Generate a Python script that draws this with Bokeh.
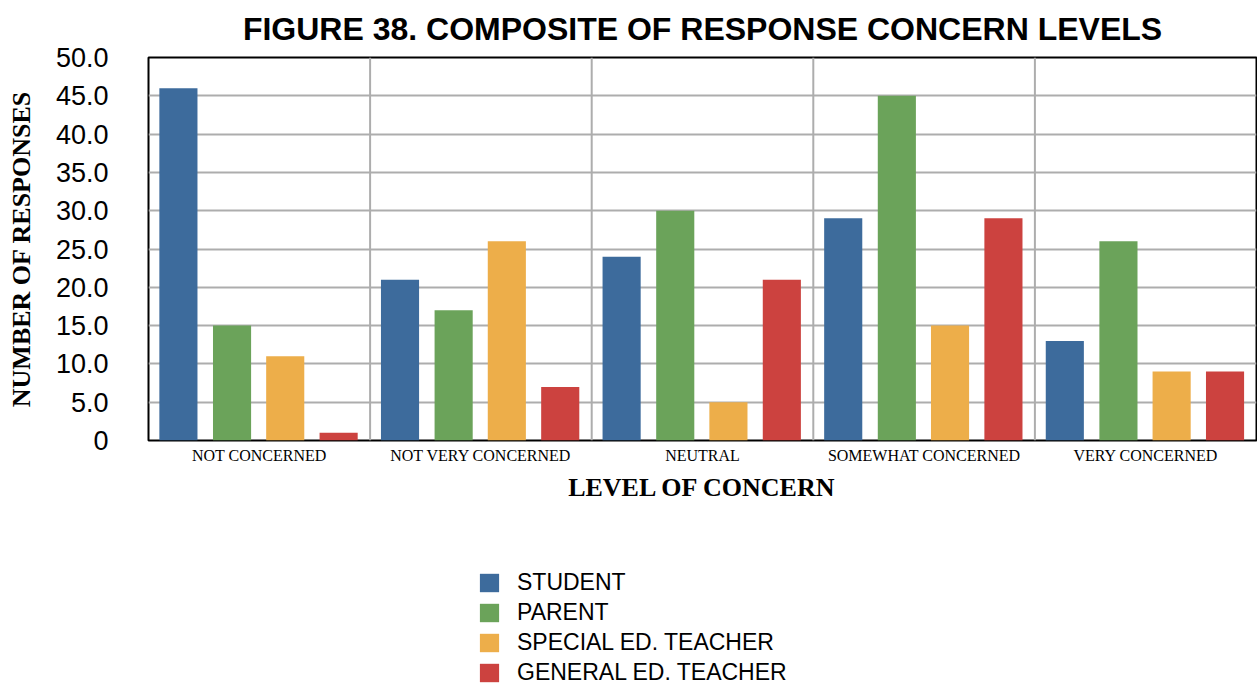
from bokeh.plotting import figure
from bokeh.layouts import column
from bokeh.models import (FactorRange, FixedTicker, Span, Legend, LegendItem, NumeralTickFormatter,
                          ColumnDataSource, Range1d)
from bokeh.transform import dodge
from bokeh.embed import file_html
from bokeh.resources import INLINE

categories = ["NOT CONCERNED", "NOT VERY CONCERNED", "NEUTRAL", "SOMEWHAT CONCERNED", "VERY CONCERNED"]
series_names = ["STUDENT", "PARENT", "SPECIAL ED. TEACHER", "GENERAL ED. TEACHER"]
student = [46, 21, 24, 29, 13]
parent = [15, 17, 30, 45, 26]
special_ed = [11, 26, 5, 15, 9]
general_ed = [1, 7, 21, 29, 9]
y_ticks = [0, 5, 10, 15, 20, 25, 30, 35, 40, 45, 50]

colors = ["#3D6B9C", "#6BA35A", "#EDAE4A", "#CC423F"]
offsets = [-0.365, -0.123, 0.117, 0.358]

source = ColumnDataSource(dict(cat=categories, student=student, parent=parent,
                               special=special_ed, general=general_ed))
keys = ["student", "parent", "special", "general"]

p = figure(x_range=FactorRange(*categories), y_range=(0, 50),
           width=1257, height=504, output_backend="svg", toolbar_location=None,
           min_border_left=148, min_border_right=1, min_border_top=57, min_border_bottom=10)

p.title.text = "FIGURE 38. COMPOSITE OF RESPONSE CONCERN LEVELS"
p.title.text_font = "Liberation Sans"
p.title.text_font_size = "32px"
p.title.text_font_style = "bold"
p.title.align = "center"
p.title.vertical_align = "top"
p.title.text_color = "black"
p.title.standoff = 17

renderers = []
for k, c, o in zip(keys, colors, offsets):
    r = p.vbar(x=dodge("cat", o, range=p.x_range), top=k, width=0.172, source=source,
               fill_color=c, line_color=None)
    renderers.append(r)

# axes
p.yaxis.ticker = FixedTicker(ticks=y_ticks)
p.yaxis.formatter = NumeralTickFormatter(format="0.0")
p.yaxis.major_label_overrides = {0: "0"}
p.yaxis.major_label_text_font = "Liberation Sans"
p.yaxis.major_label_text_font_size = "27px"
p.yaxis.major_label_text_color = "black"
p.yaxis.major_label_standoff = 34
p.yaxis.axis_label = "NUMBER OF RESPONSES"
p.yaxis.axis_label_text_font = "Liberation Serif"
p.yaxis.axis_label_text_font_size = "26px"
p.yaxis.axis_label_text_font_style = "bold"
p.yaxis.axis_label_text_color = "black"
p.yaxis.axis_label_standoff = 17

p.xaxis.major_label_text_font = "Liberation Serif"
p.xaxis.major_label_text_font_size = "16px"
p.xaxis.major_label_text_color = "black"
p.xaxis.major_label_standoff = 0
p.xaxis.axis_label = "LEVEL OF CONCERN"
p.xaxis.axis_label_text_font = "Liberation Serif"
p.xaxis.axis_label_text_font_size = "26px"
p.xaxis.axis_label_text_font_style = "bold"
p.xaxis.axis_label_text_color = "black"
p.xaxis.axis_label_standoff = 6

for ax in (p.xaxis, p.yaxis):
    ax.axis_line_color = None
    ax.major_tick_line_color = None
    ax.minor_tick_line_color = None

# grid
p.ygrid.grid_line_color = "#ADADAD"
p.ygrid.grid_line_width = 2
p.xgrid.grid_line_color = None
for i in range(1, len(categories)):
    p.add_layout(Span(location=i, dimension="height", line_color="#ADADAD", line_width=2, level="underlay"))

p.outline_line_color = "black"
p.outline_line_width = 2

# legend area below the chart (swatch renderers carry no visible marks)
lg = figure(width=1257, height=182, output_backend="svg", toolbar_location=None,
            x_range=Range1d(0, 1), y_range=Range1d(0, 1),
            min_border_left=0, min_border_right=0, min_border_top=0, min_border_bottom=0)
lg.axis.visible = False
lg.grid.visible = False
lg.outline_line_color = None
legend_renderers = [lg.vbar(x=[0], top=[0], width=0, fill_color=c, line_color=None) for c in colors]

legend = Legend(items=[LegendItem(label=n, renderers=[r]) for n, r in zip(series_names, legend_renderers)],
                location=(329, 0), orientation="vertical",
                padding=0, margin=0, spacing=3, glyph_width=24, glyph_height=23,
                label_height=23, label_standoff=16,
                label_text_font="Liberation Sans", label_text_font_size="23px",
                label_text_color="black", border_line_color=None, background_fill_alpha=0)
lg.add_layout(legend, "center")

layout = column(p, lg, spacing=0)
open("out.html", "w").write(file_html(layout, INLINE))
